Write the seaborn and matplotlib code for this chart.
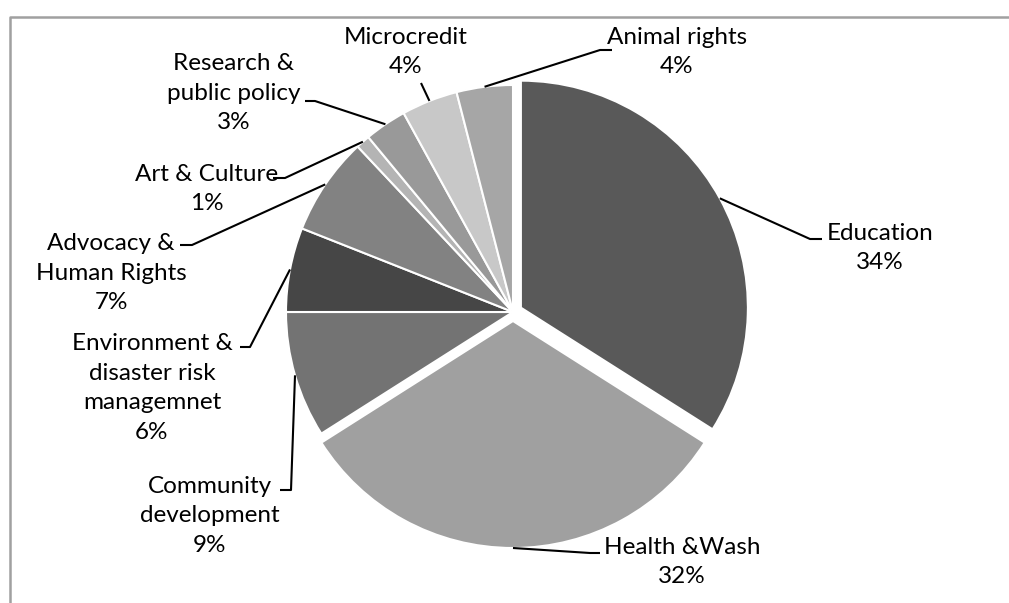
import numpy as np
import matplotlib.pyplot as plt
from matplotlib.lines import Line2D
import seaborn as sns

categories = ["Education", "Health &Wash", "Community\ndevelopment",
              "Environment &\ndisaster risk\nmanagemnet", "Advocacy &\nHuman Rights",
              "Art & Culture", "Research &\npublic policy", "Microcredit", "Animal rights"]
shares = [34, 32, 9, 6, 7, 1, 3, 4, 4]
colors = ["#595959", "#a0a0a0", "#737373", "#464646", "#828282",
          "#b4b4b4", "#999999", "#c8c8c8", "#a6a6a6"]

# layout (pixels from top-left): label centre, leader elbow, leader end
pulled = [9, 9, 0, 0, 0, 0, 0, 0, 0]
text_pos = [(880, 248), (682, 562), (210, 516), (152, 388), (111, 273),
            (207, 189), (234, 93), (406, 52), (677, 52)]
elbow = [(810, 239), (590, 553), (291, 490), (250, 347), (192, 245),
         (285, 178), (315, 101), (421, 83), (600, 50)]
tail = [(822, 239), (600, 553), (280, 490), (240, 347), (180, 245),
        (273, 178), (305, 101), (421, 83), (612, 50)]

sns.set_theme(style="white")
plt.rcParams['font.family'] = ['Lato', 'DejaVu Sans']

W, H = 1009, 603
fig = plt.figure(figsize=(W / 100, H / 100), dpi=100)
ax = fig.add_axes([0, 0, 1, 1])

wedges, _ = ax.pie(shares, colors=colors, startangle=90, counterclock=False,
                   center=(513, H - 312), radius=227, explode=pulled,
                   wedgeprops=dict(edgecolor='white', linewidth=1.5))
ax.set_xlim(0, W)
ax.set_ylim(0, H)
ax.set_aspect('equal')
ax.axis('off')

for w, cat, s, tp, el, tl in zip(wedges, categories, shares, text_pos, elbow, tail):
    mid = np.deg2rad((w.theta1 + w.theta2) / 2)
    ex = w.center[0] + w.r * np.cos(mid)
    ey = w.center[1] + w.r * np.sin(mid)
    ax.plot([ex, el[0], tl[0]], [ey, H - el[1], H - tl[1]], color='black', lw=1.5,
            solid_capstyle='butt')
    ax.text(tp[0], H - tp[1], f"{cat}\n{s}%", ha='center', va='center',
            fontsize=17.5, linespacing=1.5, color='black')

# chart frame (left and top edges visible)
fig.add_artist(Line2D([10 / W, 10 / W, 1], [0, 1 - 17 / H, 1 - 17 / H],
                      transform=fig.transFigure, color='#a0a0a0', lw=1.8))

fig.savefig('out.png', dpi=100)
